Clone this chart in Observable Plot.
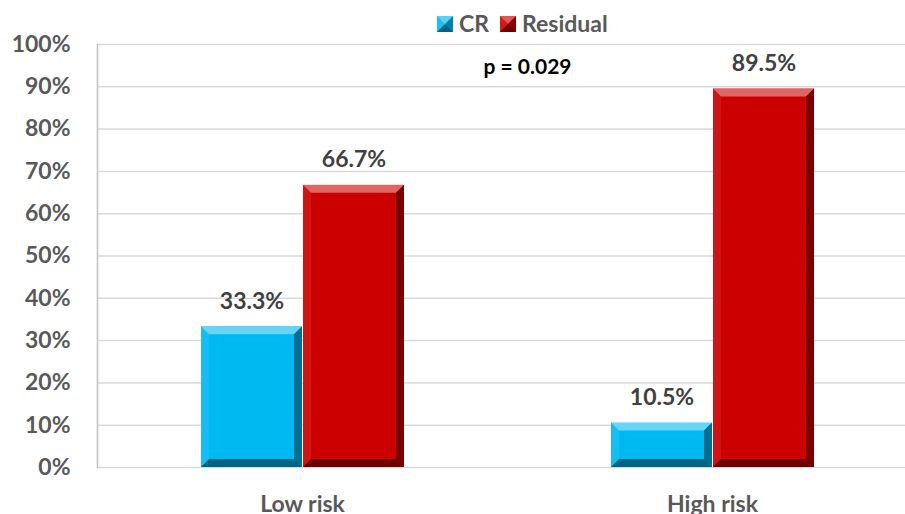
<!DOCTYPE html>
<html>
<head>
<meta charset="utf-8">
<script src="https://cdn.jsdelivr.net/npm/d3@7"></script>
<script src="https://cdn.jsdelivr.net/npm/@observablehq/plot@0.6"></script>
<style>
  html, body { margin: 0; padding: 0; background: #fff; }
  #wrap { width: 905px; height: 514px; position: relative; overflow: hidden; font-family: Lato, "Open Sans", sans-serif; }
  #legend { position: absolute; left: 0; top: 0; width: 905px; height: 36px; font-weight: bold; font-size: 23px; color: #595959; z-index: 2; }
  #legend .sw { position: absolute; top: 16px; width: 16px; height: 16px; }
  #legend .lab { position: absolute; top: 12px; line-height: 23px; }
</style>
</head>
<body>
<div id="wrap">
  <div id="chart"></div>
  <div id="legend"></div>
</div>
<script>
// ---- data ----
const categories = ["Low risk", "High risk"];
const series = ["CR", "Residual"];
const crValues = [33.3, 10.5];
const residualValues = [66.7, 89.5];
const yTicks = [0, 10, 20, 30, 40, 50, 60, 70, 80, 90, 100];
const pLabel = "p = 0.029";
const seriesColors = ["#00B9F1", "#CC0000"];

const data = categories.flatMap((c, i) => [
  {category: c, series: series[0], value: crValues[i]},
  {category: c, series: series[1], value: residualValues[i]}
]);

// ---- legend ----
function bevelSwatch(color, left) {
  return `<svg class="sw" style="left:${left}px" viewBox="0 0 16 16" width="16" height="16">
    <rect x="0" y="0" width="16" height="16" fill="${color}"/>
    <polygon points="0,0 16,0 8,8" fill="white" fill-opacity="0.35"/>
    <polygon points="0,0 8,8 0,16" fill="white" fill-opacity="0.1"/>
    <polygon points="16,0 16,16 8,8" fill="black" fill-opacity="0.3"/>
    <polygon points="0,16 16,16 8,8" fill="black" fill-opacity="0.45"/>
  </svg>`;
}
const legend = document.getElementById("legend");
const legendPos = [[437, 459], [500, 522]];
legend.innerHTML = series.map((s, i) =>
  bevelSwatch(seriesColors[i], legendPos[i][0]) +
  `<span class="lab" style="left:${legendPos[i][1]}px">${s}</span>`
).join("");

// ---- chart ----
const chart = Plot.plot({
  width: 905,
  height: 514,
  marginLeft: 98,
  marginRight: 0,
  marginTop: 44,
  marginBottom: 47,
  style: {fontFamily: "Lato, 'Open Sans', sans-serif", fontWeight: "bold", fontSize: "23px", color: "#595959", background: "white", overflow: "hidden"},
  fx: {domain: categories, range: [96, 917], padding: 0, label: null},
  x: {domain: series, paddingInner: 0.01, paddingOuter: 1.0, axis: null},
  y: {domain: [0, 100], axis: null},
  color: {domain: series, range: seriesColors},
  marks: [
    Plot.ruleY(yTicks, {stroke: "#d9d9d9", strokeWidth: 1.5}),
    Plot.barY(data, {fx: "category", x: "series", y: "value", fill: "series"}),
    Plot.text(data, {fx: "category", x: "series", y: "value", text: d => d.value.toFixed(1) + "%", dy: -18, lineAnchor: "bottom", fill: "#404040"}),
    Plot.axisY(yTicks, {tickSize: 0, tickPadding: 27, tickFormat: d => d + "%", label: null, fill: "#595959"}),
    Plot.axisFx({anchor: "bottom", tickSize: 0, tickPadding: 28, label: null, fill: "#595959"}),
    Plot.frame({anchor: "left", facet: "super", stroke: "#bfbfbf", strokeWidth: 1.5}),
    Plot.text([pLabel], {frameAnchor: "top", facet: "super", dx: 20, dy: 15, fill: "black", fontSize: 21})
  ]
});
document.getElementById("chart").appendChild(chart);

// bevel decoration on the bars drawn by Plot
const b = 8;
d3.select(chart).selectAll('g[aria-label="bar"] rect').each(function() {
  const r = d3.select(this);
  const x = +r.attr("x"), y = +r.attr("y"), w = +r.attr("width"), h = +r.attr("height");
  const g = d3.select(this.parentNode);
  const bb = Math.min(b, h / 2, w / 2);
  const poly = (pts, fill, op) => g.append("polygon")
    .attr("points", pts.map(p => p.join(",")).join(" "))
    .attr("fill", fill).attr("fill-opacity", op);
  poly([[x, y], [x + w, y], [x + w - bb, y + bb], [x + bb, y + bb]], "white", 0.4);
  poly([[x, y], [x + bb, y + bb], [x + bb, y + h - bb], [x, y + h]], "white", 0.08);
  poly([[x + w, y], [x + w, y + h], [x + w - bb, y + h - bb], [x + w - bb, y + bb]], "black", 0.4);
  poly([[x, y + h], [x + w, y + h], [x + w - bb, y + h - bb], [x + bb, y + h - bb]], "black", 0.45);
});
</script>
</body>
</html>
